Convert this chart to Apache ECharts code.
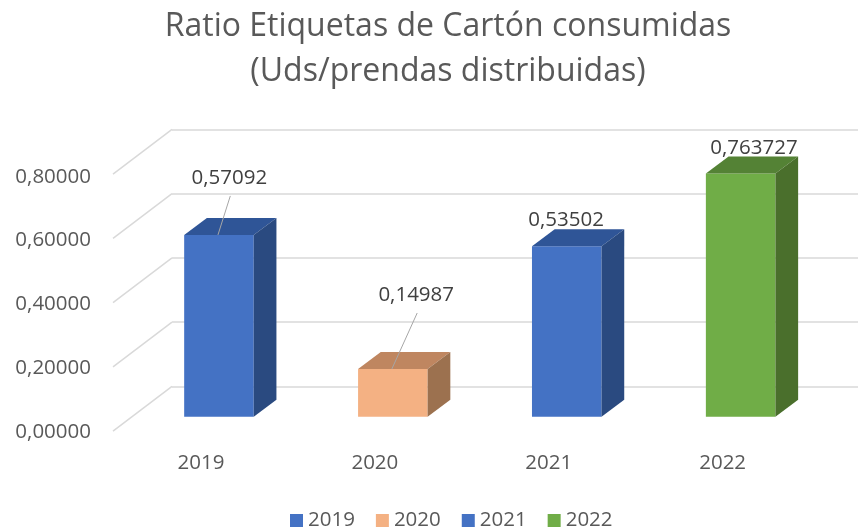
<!DOCTYPE html>
<html>
<head>
<meta charset="utf-8">
<script src="https://cdn.jsdelivr.net/npm/echarts@6/dist/echarts.min.js"></script>
<style>
  html, body { margin: 0; padding: 0; background: #fff; }
  #main { width: 858px; height: 530px; }
</style>
</head>
<body>
<div id="main"></div>
<script>
// data
var years = ['2019', '2020', '2021', '2022'];
var ratios = [0.57092, 0.14987, 0.53502, 0.763727];
var ratioLabels = ['0,57092', '0,14987', '0,53502', '0,763727'];
var yTicks = [0, 0.2, 0.4, 0.6, 0.8];

// colores de cada barra: frente, tapa, lateral
var shades = [
    ['#4472c4', '#2f5597', '#2a4a80'],
    ['#f4b183', '#bf8660', '#9c714f'],
    ['#4472c4', '#2f5597', '#2a4a80'],
    ['#70ad47', '#548235', '#4a6f2c']
];
// desplazamiento de etiquetas (x, altura sobre la tapa) y si llevan línea guía
var labelShift = [[-1, 40, true], [12, 57, true], [-12, 9, false], [2, 8, false]];
var DX = 22.7, DY = -17;
var FONT = '"Open Sans", "Noto Sans", sans-serif';
var FS = 20.5;

function renderBox(params, api) {
    var i = api.value(0), v = api.value(1);
    var top = api.coord([i, v]);
    var base = api.coord([i, 0]);
    var w = api.size([1, 0])[0] * 0.4;
    var x0 = top[0] - w / 2, x1 = top[0] + w / 2;
    var y0 = top[1], y1 = base[1];
    var c = shades[i];
    var s = labelShift[i];
    var lx = top[0] + DX / 2 + s[0];
    var ly = y0 + DY - s[1];
    var children = [
        { type: 'rect', shape: { x: x0, y: y0, width: w, height: y1 - y0 }, style: { fill: c[0] } },
        { type: 'polygon', shape: { points: [[x0, y0], [x1, y0], [x1 + DX, y0 + DY], [x0 + DX, y0 + DY]] }, style: { fill: c[1] } },
        { type: 'polygon', shape: { points: [[x1, y0], [x1 + DX, y0 + DY], [x1 + DX, y1 + DY], [x1, y1]] }, style: { fill: c[2] } },
        {
            type: 'text', x: lx, y: ly,
            style: { text: ratioLabels[i], fill: '#404040', font: FS + 'px ' + FONT, align: 'center', verticalAlign: 'middle' }
        }
    ];
    if (s[2]) {
        children.push({
            type: 'line', shape: { x1: top[0] - 1, y1: y0, x2: lx + 1, y2: ly + 18 },
            style: { stroke: '#a6a6a6', lineWidth: 1 }
        });
    }
    return { type: 'group', children: children };
}

function renderSide(params, api) {
    var p = api.coord([0, api.value(1)]);
    return {
        type: 'line',
        shape: { x1: p[0], y1: p[1], x2: p[0] - 59, y2: p[1] + 44.8 },
        style: { stroke: '#d9d9d9', lineWidth: 1.5 }
    };
}

var myChart = echarts.init(document.getElementById('main'));

var series = [{
    type: 'custom',
    xAxisIndex: 0, yAxisIndex: 0,
    silent: true, clip: false,
    renderItem: renderSide,
    data: yTicks.map(t => [0, t])
}];
years.forEach((y, i) => {
    series.push({
        name: y,
        type: 'custom',
        xAxisIndex: 1, yAxisIndex: 1,
        clip: false,
        itemStyle: { color: shades[i][0] },
        renderItem: renderBox,
        data: [[i, ratios[i]]]
    });
});

var option = {
    animation: false,
    title: {
        text: 'Ratio Etiquetas de Cartón consumidas\n(Uds/prendas distribuidas)',
        left: 448,
        textAlign: 'center',
        top: 4,
        padding: 0,
        textStyle: { fontFamily: FONT, fontSize: 32, fontWeight: 'normal', color: '#595959', lineHeight: 45 }
    },
    legend: {
        data: years,
        left: 285,
        top: 505,
        icon: 'rect',
        itemWidth: 13,
        itemHeight: 13,
        itemGap: 21,
        textStyle: { fontFamily: FONT, fontSize: FS, color: '#595959' }
    },
    grid: [
        { left: 172, right: 0, top: 129.3, bottom: 143.7 },
        { left: 132, right: 30.4, top: 162, bottom: 113.3 },
        { left: 113, width: 59, top: 176.7, bottom: 98.3 }
    ],
    xAxis: [
        { gridIndex: 0, type: 'value', min: 0, max: 1, show: false },
        {
            gridIndex: 1, type: 'category', data: years,
            axisLine: { show: false }, axisTick: { show: false },
            axisLabel: { margin: 36, padding: [0, 36, 0, 0], fontFamily: FONT, fontSize: FS, color: '#595959' }
        },
        { gridIndex: 2, type: 'value', min: 0, max: 1, show: false }
    ],
    yAxis: [
        {
            gridIndex: 0, type: 'value', min: 0, max: 0.8, interval: 0.2,
            axisLabel: { show: false }, axisLine: { show: false }, axisTick: { show: false },
            splitLine: { lineStyle: { color: '#d9d9d9', width: 1.5 } }
        },
        { gridIndex: 1, type: 'value', min: 0, max: 0.8, show: false },
        {
            gridIndex: 2, type: 'value', min: 0, max: 0.8, interval: 0.2,
            axisLine: { show: false }, axisTick: { show: false }, splitLine: { show: false },
            axisLabel: {
                margin: 22, fontFamily: FONT, fontSize: FS, color: '#595959',
                formatter: v => v.toFixed(5).replace('.', ',')
            }
        }
    ],
    series: series
};

myChart.setOption(option);
</script>
</body>
</html>
